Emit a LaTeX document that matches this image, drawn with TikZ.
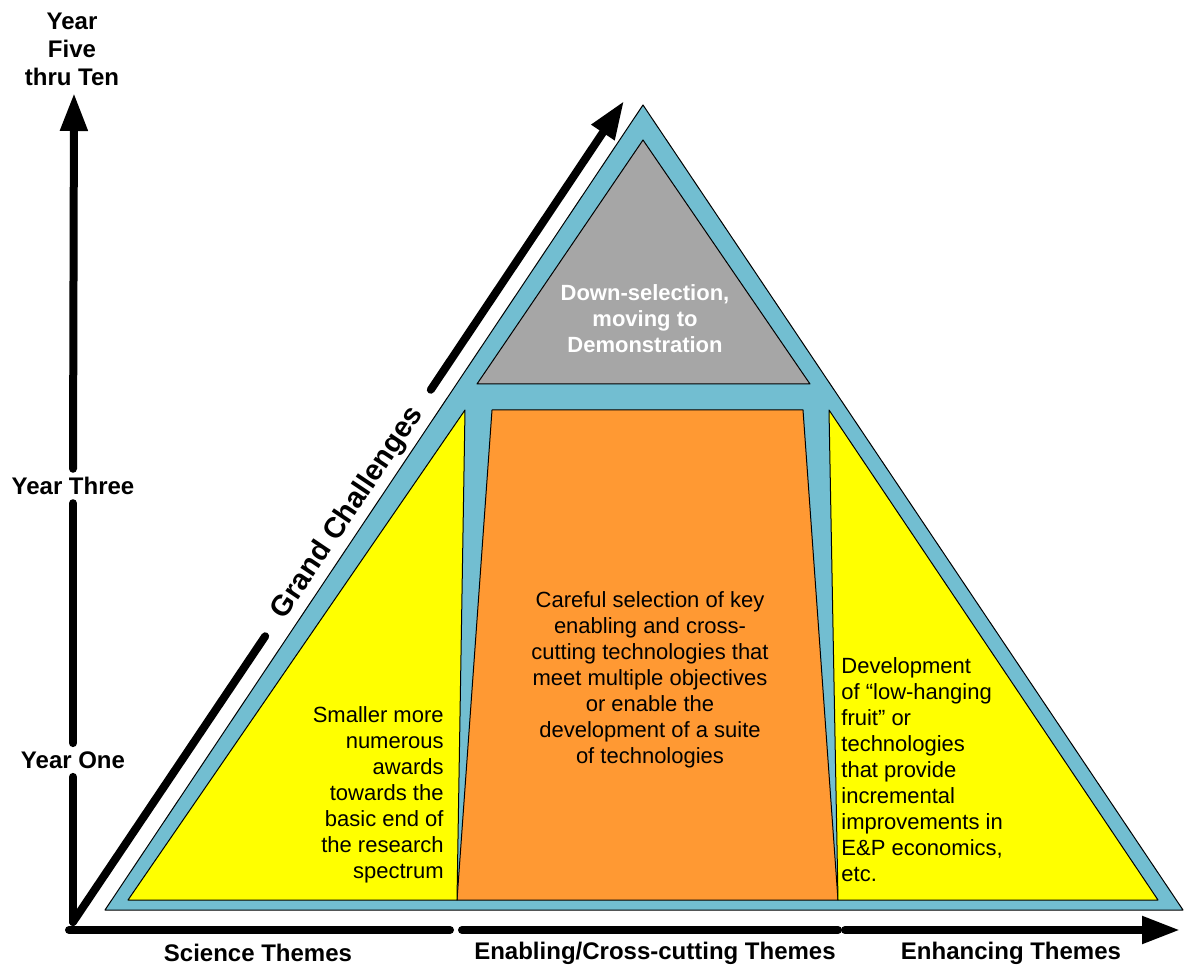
\documentclass[tikz,border=0pt]{standalone}
\usepackage{fontspec}
\setmainfont{Liberation Sans}
\usetikzlibrary{arrows.meta}
\definecolor{pyrblue}{RGB}{114,190,209}
\definecolor{pyrgray}{RGB}{166,166,166}
\definecolor{pyrorange}{RGB}{255,153,51}
\definecolor{pyryellow}{RGB}{255,255,0}
\begin{document}
\begin{tikzpicture}[x=0.5pt, y=-0.5pt, line join=round, line cap=round,
  >={Triangle[length=19pt,width=13pt]},
  axis/.style={line width=4pt},
  part/.style={draw=black, line width=0.5pt},
  lbl/.style={font=\fontsize{12}{14}\selectfont\bfseries, align=center, inner sep=0pt},
  body/.style={font=\fontsize{11}{13}\selectfont, inner sep=0pt}]
\useasboundingbox (0,0) rectangle (1185,968);
% axes
\path (73,922) coordinate (O)
  (74,93) coordinate (T)
  (624,101) coordinate (G)
  (69,930) coordinate (h0) (450,930) coordinate (h1)
  (462,930) coordinate (h2) (838,930) coordinate (h3)
  (845,930) coordinate (h4) (1180,930) coordinate (h5);
\node[lbl] (y5) at (72,49) {Year\\Five\\thru Ten};
\node[lbl, inner ysep=4pt] (y3) at (73,486) {Year Three};
\node[lbl, inner ysep=4pt] (y1) at (73,760) {Year One};
\node[lbl, font=\fontsize{14.5}{16}\selectfont\bfseries, rotate=56.1, inner xsep=12pt] (gc) at (348,513) {Grand Challenges};
\draw[axis] (O)--(y1.south) (y1.north)--(y3.south);
\draw[axis,->] (y3.north)--(T);
\draw[axis] (O)--(gc.west);
\draw[axis,->] (gc.east)--(G);
\draw[axis] (h0)--(h1) (h2)--(h3);
\draw[axis,->] (h4)--(h5);
\node[lbl] (sci) at (258,953) {Science Themes};
\node[lbl] (enab) at (655,953) {Enabling/Cross-cutting Themes};
\node[lbl] (enh) at (1011,953) {Enhancing Themes};
% pyramid
\path (643,105) coordinate (A) (105,910) coordinate (L) (1183,910) coordinate (R)
  (643,140) coordinate (gA) (477,384) coordinate (gL) (810,384) coordinate (gR)
  (492,410) coordinate (oA) (803,410) coordinate (oB) (838,900) coordinate (oC) (457,900) coordinate (oD)
  (465,410) coordinate (lA) (128,900) coordinate (lB)
  (829,410) coordinate (rA) (1158,900) coordinate (rB);
\fill[pyrblue] (A)--(L)--(R)--cycle;
\draw[part] (A)--(L)--(R)--cycle;
\filldraw[part, fill=pyrgray] (gA)--(gL)--(gR)--cycle;
\filldraw[part, fill=pyrorange] (oA)--(oB)--(oC)--(oD)--cycle;
\filldraw[part, fill=pyryellow] (lA)--(oD)--(lB)--cycle;
\filldraw[part, fill=pyryellow] (rA)--(rB)--(oC)--cycle;
\node[body, font=\fontsize{11}{13}\selectfont\bfseries, text=white, align=center] (down) at (645,319) {Down-selection,\\moving to\\Demonstration};
\node[body, align=center] (care) at (650,680) {Careful selection of key\\enabling and cross-\\cutting technologies that\\meet multiple objectives\\or enable the\\development of a suite\\of technologies};
\node[body, align=right, anchor=east] (small) at (444,795) {Smaller more\\numerous\\awards\\towards the\\basic end of\\the research\\spectrum};
\node[body, align=left, anchor=west] (devel) at (841,770) {Development\\of “low-hanging\\fruit” or\\technologies\\that provide\\incremental\\improvements in\\E\&P economics,\\etc.};
\end{tikzpicture}
\end{document}
